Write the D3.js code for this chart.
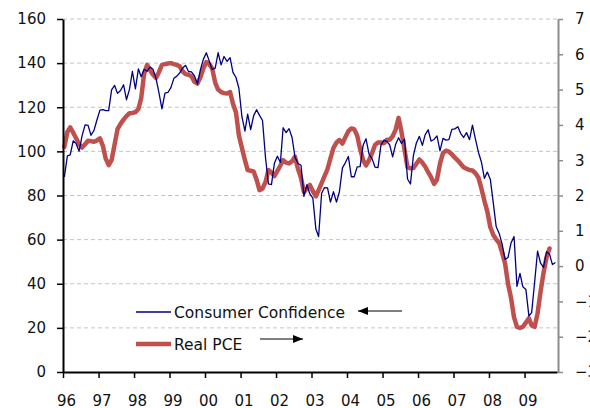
<!DOCTYPE html>
<html lang="en">
<head>
  <meta charset="UTF-8">
  <title>Consumer Confidence vs Real PCE</title>
  <script src="https://d3js.org/d3.v7.min.js"></script>
  <style>
    body { margin: 0; background: #fff; }
    text { font-family: "DejaVu Sans", Verdana, sans-serif; }
  </style>
</head>
<body>
  <svg id="chart" width="590" height="408"></svg>

  <script>
    // monthly, Jan 1996 onwards (left axis)
    const confidence = [
      88.4, 98.0, 98.4, 104.8, 103.5, 100.1, 107.0, 112.0, 111.8, 107.3, 109.5, 114.2, // 96
      118.7, 118.9, 118.5, 118.5, 127.9, 129.9, 126.3, 127.6, 130.2, 123.4, 128.1, 136.2, // 97
      128.3, 137.4, 133.8, 137.2, 136.3, 138.2, 137.2, 133.1, 126.4, 119.3, 126.4, 126.7, // 98
      128.9, 133.1, 134.0, 135.5, 137.7, 139.0, 136.2, 136.0, 134.2, 130.5, 137.0, 141.7, // 99
      144.7, 140.8, 137.1, 137.7, 144.7, 139.2, 143.0, 140.8, 142.5, 135.8, 133.5, 128.6, // 00
      115.7, 109.2, 116.9, 109.9, 116.1, 118.9, 116.3, 114.0, 97.0, 85.3, 84.9, 94.6, // 01
      97.8, 95.0, 110.7, 108.5, 110.3, 106.3, 97.4, 94.5, 93.7, 79.6, 84.9, 80.7, // 02
      78.8, 64.8, 61.4, 81.0, 83.6, 83.5, 77.0, 81.7, 77.0, 81.7, 92.5, 94.8, // 03
      97.7, 88.5, 88.5, 93.0, 93.1, 102.8, 105.7, 98.7, 96.7, 92.9, 92.6, 102.7, // 04
      105.1, 104.4, 103.0, 97.5, 103.1, 106.2, 103.6, 105.5, 87.5, 85.2, 98.3, 103.8, // 05
      106.8, 102.7, 107.5, 109.8, 104.7, 105.4, 107.0, 100.2, 105.9, 105.1, 105.3, 110.0, // 06
      110.2, 111.2, 108.2, 106.3, 108.5, 105.3, 111.9, 105.6, 99.5, 95.2, 87.8, 90.6, // 07
      87.3, 76.4, 65.9, 62.8, 58.1, 51.0, 51.9, 58.5, 61.4, 38.8, 44.7, 38.6, // 08
      37.4, 25.3, 26.9, 40.8, 54.8, 49.3, 47.4, 54.5, 53.4, 48.7, 49.6 // 09
    ];

    // monthly, Jan 1996 onwards (right axis, %)
    const realPCE = [
      3.38, 3.8, 3.93, 3.78, 3.62, 3.45, 3.36, 3.45, 3.55, 3.54, 3.52, 3.56, // 96
      3.62, 3.4, 3.05, 2.86, 3.0, 3.45, 3.88, 4.03, 4.15, 4.25, 4.33, 4.34, // 97
      4.36, 4.45, 4.75, 5.45, 5.7, 5.55, 5.42, 5.33, 5.5, 5.7, 5.72, 5.74, // 98
      5.75, 5.72, 5.7, 5.66, 5.52, 5.44, 5.42, 5.38, 5.22, 5.17, 5.35, 5.6, // 99
      5.78, 5.72, 5.6, 5.2, 5.0, 4.93, 4.9, 4.89, 4.93, 4.6, 4.35, 3.7, // 00
      3.35, 3.0, 2.72, 2.7, 2.68, 2.45, 2.15, 2.2, 2.38, 2.72, 2.65, 2.55, // 01
      2.7, 2.85, 3.0, 2.93, 2.91, 2.97, 3.1, 2.75, 2.5, 2.1, 2.2, 2.3, // 02
      2.12, 1.98, 2.15, 2.35, 2.55, 2.75, 3.05, 3.35, 3.5, 3.57, 3.47, 3.65, // 03
      3.82, 3.9, 3.88, 3.7, 3.32, 3.0, 2.85, 3.0, 3.2, 3.43, 3.5, 3.5, // 04
      3.48, 3.58, 3.58, 3.68, 3.86, 4.2, 3.8, 3.3, 2.8, 2.77, 2.78, 2.9, // 05
      3.02, 2.93, 2.82, 2.66, 2.52, 2.33, 2.45, 2.9, 3.2, 3.27, 3.24, 3.17, // 06
      3.07, 2.99, 2.9, 2.8, 2.76, 2.72, 2.71, 2.63, 2.5, 2.2, 1.85, 1.55, // 07
      1.1, 0.88, 0.76, 0.65, 0.38, 0.07, -0.5, -0.9, -1.45, -1.72, -1.75, -1.72, // 08
      -1.6, -1.48, -1.68, -1.72, -1.34, -0.72, -0.2, 0.25, 0.5 // 09
    ];

    const yearLabels = ["96", "97", "98", "99", "00", "01", "02", "03", "04", "05", "06", "07", "08", "09"];
    const leftTicks = [0, 20, 40, 60, 80, 100, 120, 140, 160];
    const rightTicks = [-3, -2, -1, 0, 1, 2, 3, 4, 5, 6, 7];
    const seriesNames = ["Consumer Confidence", "Real PCE"];

    const plotL = 63, plotR = 557, plotT = 19, plotB = 372;
    const blue = "#000080", red = "#c0504d";

    const svg = d3.select("#chart");

    const monthDate = i => new Date(1996, i, 15);

    const x = d3.scaleTime()
      .domain([new Date(1996, 0, 1), new Date(2009, 11, 1)])
      .range([plotL, plotR]);
    const yL = d3.scaleLinear().domain([0, 160]).range([plotB, plotT]);
    const yR = d3.scaleLinear().domain([-3, 7]).range([plotB, plotT]);

    // gridlines
    svg.append("g")
      .selectAll("line")
      .data(leftTicks.filter(d => d > 0))
      .join("line")
      .attr("x1", plotL).attr("x2", plotR)
      .attr("y1", d => yL(d)).attr("y2", d => yL(d))
      .attr("stroke", "#c4c4c4")
      .attr("stroke-width", 1)
      .attr("stroke-dasharray", "4,3");

    // series lines
    const confLine = d3.line()
      .x((d, i) => x(monthDate(i)))
      .y(d => yL(d));
    const pceLine = d3.line()
      .x((d, i) => x(monthDate(i)))
      .y(d => yR(d));

    svg.append("path")
      .datum(realPCE)
      .attr("d", pceLine)
      .attr("fill", "none")
      .attr("stroke", red)
      .attr("stroke-width", 4.5)
      .attr("stroke-linejoin", "round")
      .attr("stroke-linecap", "round");

    svg.append("path")
      .datum(confidence)
      .attr("d", confLine)
      .attr("fill", "none")
      .attr("stroke", blue)
      .attr("stroke-width", 1.3)
      .attr("stroke-linejoin", "round");

    // left axis
    const axL = svg.append("g")
      .attr("transform", `translate(${plotL},0)`)
      .call(d3.axisLeft(yL).tickValues(leftTicks).tickSize(6).tickSizeOuter(0).tickPadding(11));
    axL.select(".domain").attr("stroke", "#000").attr("stroke-width", 2);
    axL.selectAll(".tick line").attr("stroke", "#000").attr("stroke-width", 1.5);
    axL.selectAll(".tick text").attr("font-size", 15).attr("fill", "#111")
      .attr("font-family", "DejaVu Sans");

    // right axis
    const axR = svg.append("g")
      .attr("transform", `translate(${plotR + 1},0)`)
      .call(d3.axisRight(yR).tickValues(rightTicks).tickSize(5).tickSizeOuter(0).tickPadding(12));
    axR.select(".domain").attr("stroke", "#8c8c8c").attr("stroke-width", 2);
    axR.selectAll(".tick line").attr("stroke", "#8c8c8c").attr("stroke-width", 1.5);
    axR.selectAll(".tick text").attr("font-size", 15).attr("fill", "#111")
      .attr("font-family", "DejaVu Sans");

    // bottom axis
    const yearDates = yearLabels.map((d, i) => new Date(1996 + i, 0, 1));
    const axB = svg.append("g")
      .attr("transform", `translate(0,${plotB})`)
      .call(d3.axisBottom(x).tickValues(yearDates).tickSize(6).tickSizeOuter(0)
        .tickFormat((d, i) => yearLabels[i]));
    axB.select(".domain").attr("stroke", "#000").attr("stroke-width", 2);
    axB.selectAll(".tick line").attr("stroke", "#000").attr("stroke-width", 1.5);
    axB.selectAll(".tick text")
      .attr("font-size", 15).attr("fill", "#111")
      .attr("font-family", "DejaVu Sans")
      .attr("y", 34).attr("dy", 0).attr("dx", 3);

    // legend
    const legend = [
      { name: seriesNames[0], color: blue, width: 1.3, y: 312, arrow: [402, 358], ay: 311 },
      { name: seriesNames[1], color: red, width: 4.5, y: 344, arrow: [260, 303], ay: 339 }
    ];

    svg.append("defs").append("marker")
      .attr("id", "arrowHead")
      .attr("viewBox", "0 0 10 8")
      .attr("refX", 10).attr("refY", 4)
      .attr("markerWidth", 10).attr("markerHeight", 8)
      .attr("markerUnits", "userSpaceOnUse")
      .attr("orient", "auto")
      .append("path")
      .attr("d", "M0,0 L10,4 L0,8 Z")
      .attr("fill", "#000");

    legend.forEach(l => {
      svg.append("line")
        .attr("x1", 136).attr("x2", 171)
        .attr("y1", l.y).attr("y2", l.y)
        .attr("stroke", l.color).attr("stroke-width", l.width);
      svg.append("text")
        .attr("x", 174).attr("y", l.y + 6)
        .attr("font-size", 15.5).attr("fill", "#111")
        .text(l.name);
      svg.append("line")
        .attr("x1", l.arrow[0]).attr("x2", l.arrow[1])
        .attr("y1", l.ay).attr("y2", l.ay)
        .attr("stroke", "#000").attr("stroke-width", 1.2)
        .attr("marker-end", "url(#arrowHead)");
    });
  </script>
</body>
</html>
